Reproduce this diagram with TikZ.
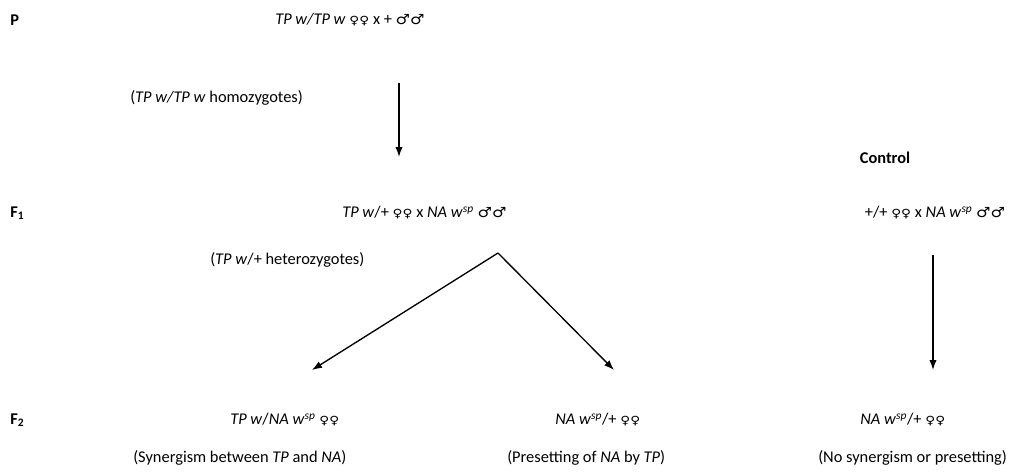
\documentclass[tikz,border=0pt]{standalone}
\usepackage{fontspec}
\setmainfont{Carlito}
\newfontfamily\symfont{DejaVu Sans}
\usetikzlibrary{positioning,arrows.meta}
\newcommand{\ffem}{{\symfont\fontsize{8.5}{8.5}\selectfont\scalebox{1.2}[1]{♀♀}}}
\newcommand{\mmal}{{\symfont\fontsize{10.5}{10.5}\selectfont\scalebox{1.15}[1]{♂♂}}}
\newcommand{\wsp}{\textit{w}\textsuperscript{\textit{sp}}}

\begin{document}
\begin{tikzpicture}[
    x=0.75pt,
    y=-0.75pt,
    font=\fontsize{12.3}{14}\selectfont,
    >={Latex[length=7.5pt,width=5.5pt]},
    gen/.style={
        inner sep=0pt,
        anchor=west
    },
    gencenter/.style={
        inner sep=0pt
    },
    arrow/.style={
        ->,
        line width=1pt
    }
]
\useasboundingbox (0,0) rectangle (1029,472);

% =========================
% Row P: parents
% =========================
\node[gen] (P)      at (10,20)  {\textbf{P}};
\node[gen] (pcross) at (275,20) {\textit{TP w/TP w} \ffem{} x + \mmal};
\node[gen] (pnote)  at (130,98) {(\textit{TP w/TP w} homozygotes)};

\coordinate (pdown) at (399,83);
\coordinate (f1up)  at (399,157);
\draw[arrow] (pdown) -- (f1up);

\node[gencenter] (control) at (885,158) {\textbf{Control}};

% =========================
% Row F1
% =========================
\node[gen] (F1)     at (10,213)  {\textbf{F\textsubscript{1}}};
\node[gen] (fcross) at (342,213) {\textit{TP w}/+ \ffem{} x \textit{NA} \wsp{} \mmal};
\node[gencenter] (ccross) at (935,213) {+/+ \ffem{} x \textit{NA} \wsp{} \mmal};
\node[gen] (fnote)  at (210,260) {(\textit{TP w}/+ heterozygotes)};

\coordinate (split) at (498,253);
\coordinate (synup) at (312,370);
\coordinate (preup) at (614,370);
\coordinate (cdown) at (933,255);
\coordinate (cup)   at (933,370);

\draw[arrow] (split) -- (synup);
\draw[arrow] (split) -- (preup);
\draw[arrow] (cdown) -- (cup);

% =========================
% Row F2
% =========================
\node[gen] (F2)   at (10,420)  {\textbf{F\textsubscript{2}}};
\node[gen] (syn)  at (230,420) {\textit{TP w}/\textit{NA} \wsp{} \ffem};
\node[gen] (pre)  at (555,420) {\textit{NA} \wsp/+ \ffem};
\node[gen] (ctrl) at (860,420) {\textit{NA} \wsp/+ \ffem};

\node[gen] (synnote)  at (133,458) {(Synergism between \textit{TP} and \textit{NA})};
\node[gen] (prenote)  at (507,458) {(Presetting of \textit{NA} by \textit{TP})};
\node[gen] (ctrlnote) at (818,458) {(No synergism or presetting)};

\end{tikzpicture}
\end{document}
